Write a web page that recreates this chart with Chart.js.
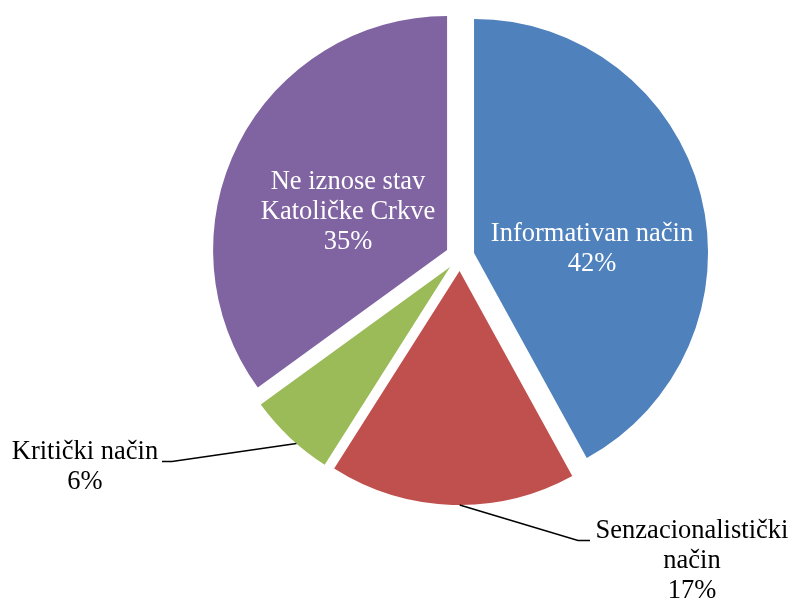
<!DOCTYPE html>
<html>
<head>
<meta charset="utf-8">
<script src="https://cdn.jsdelivr.net/npm/chart.js@4"></script>
<style>
  body { margin: 0; background: #fff; }
  #wrap { width: 792px; height: 603px; }
</style>
</head>
<body>
<div id="wrap"><canvas id="pie"></canvas></div>
<script>
const categories = ['Informativan način', 'Senzacionalistički način', 'Kritički način', 'Ne iznose stav Katoličke Crkve']
const shares = [42, 17, 6, 35]
const labelLines = [
    ['Informativan način', '42%'],
    ['Senzacionalistički', 'način', '17%'],
    ['Kritički način', '6%'],
    ['Ne iznose stav', 'Katoličke Crkve', '35%']
]
const colors = ['#4F81BD', '#C0504D', '#9BBB59', '#8064A2']

// where each label sits, relative to the pie centre (px)
const labelLayout = [
    { inside: true, dx: 132, dy: -7 },
    { inside: false, dx: 232, dy: 305, edge: 0.47, elbow: [118, 284], end: [130, 284] },
    { inside: false, dx: -375, dy: 211, edge: 0.4, elbow: [-288, 205], end: [-298, 205] },
    { inside: true, dx: -112, dy: -44 }
]

const explode = 14.5
const lineHeight = 30

// chart.js' own offset also grows the radius, so move the slices ourselves
const explodeSlices = {
    id: 'explodeSlices',
    beforeDatasetDraw(chart, args) {
        const ctx = chart.ctx
        args.meta.data.forEach((arc) => {
            const mid = (arc.startAngle + arc.endAngle) / 2
            ctx.save()
            ctx.translate(Math.cos(mid) * explode, Math.sin(mid) * explode)
            arc.draw(ctx)
            ctx.restore()
        })
        return false
    }
}

const pieLabels = {
    id: 'pieLabels',
    afterDatasetsDraw(chart) {
        const ctx = chart.ctx
        const arcs = chart.getDatasetMeta(0).data
        ctx.save()
        ctx.font = '26.5px "Liberation Serif", "Times New Roman", serif'
        ctx.textAlign = 'center'
        ctx.textBaseline = 'middle'
        arcs.forEach((arc, i) => {
            const lay = labelLayout[i]
            const cx = arc.x, cy = arc.y
            const lines = labelLines[i]
            if (!lay.inside) {
                const mid = (arc.startAngle + arc.endAngle) / 2
                const a = arc.startAngle + (arc.endAngle - arc.startAngle) * lay.edge
                const sx = cx + Math.cos(mid) * explode + Math.cos(a) * arc.outerRadius
                const sy = cy + Math.sin(mid) * explode + Math.sin(a) * arc.outerRadius
                ctx.strokeStyle = '#000'
                ctx.lineWidth = 1.5
                ctx.beginPath()
                ctx.moveTo(sx, sy)
                ctx.lineTo(cx + lay.elbow[0], cy + lay.elbow[1])
                ctx.lineTo(cx + lay.end[0], cy + lay.end[1])
                ctx.stroke()
            }
            ctx.fillStyle = lay.inside ? '#fff' : '#000'
            const top = cy + lay.dy - (lines.length - 1) * lineHeight / 2
            lines.forEach((t, k) => ctx.fillText(t, cx + lay.dx, top + k * lineHeight))
        })
        ctx.restore()
    }
}

new Chart(document.getElementById('pie').getContext('2d'), {
    type: 'pie',
    data: {
        labels: categories,
        datasets: [{
            data: shares,
            backgroundColor: colors,
            borderWidth: 0
        }]
    },
    options: {
        responsive: true,
        maintainAspectRatio: false,
        animation: false,
        radius: 234,
        layout: { padding: { left: 128, right: 0, top: 0, bottom: 90 } },
        plugins: {
            legend: { display: false },
            tooltip: { enabled: false }
        }
    },
    plugins: [explodeSlices, pieLabels]
})
</script>
</body>
</html>
